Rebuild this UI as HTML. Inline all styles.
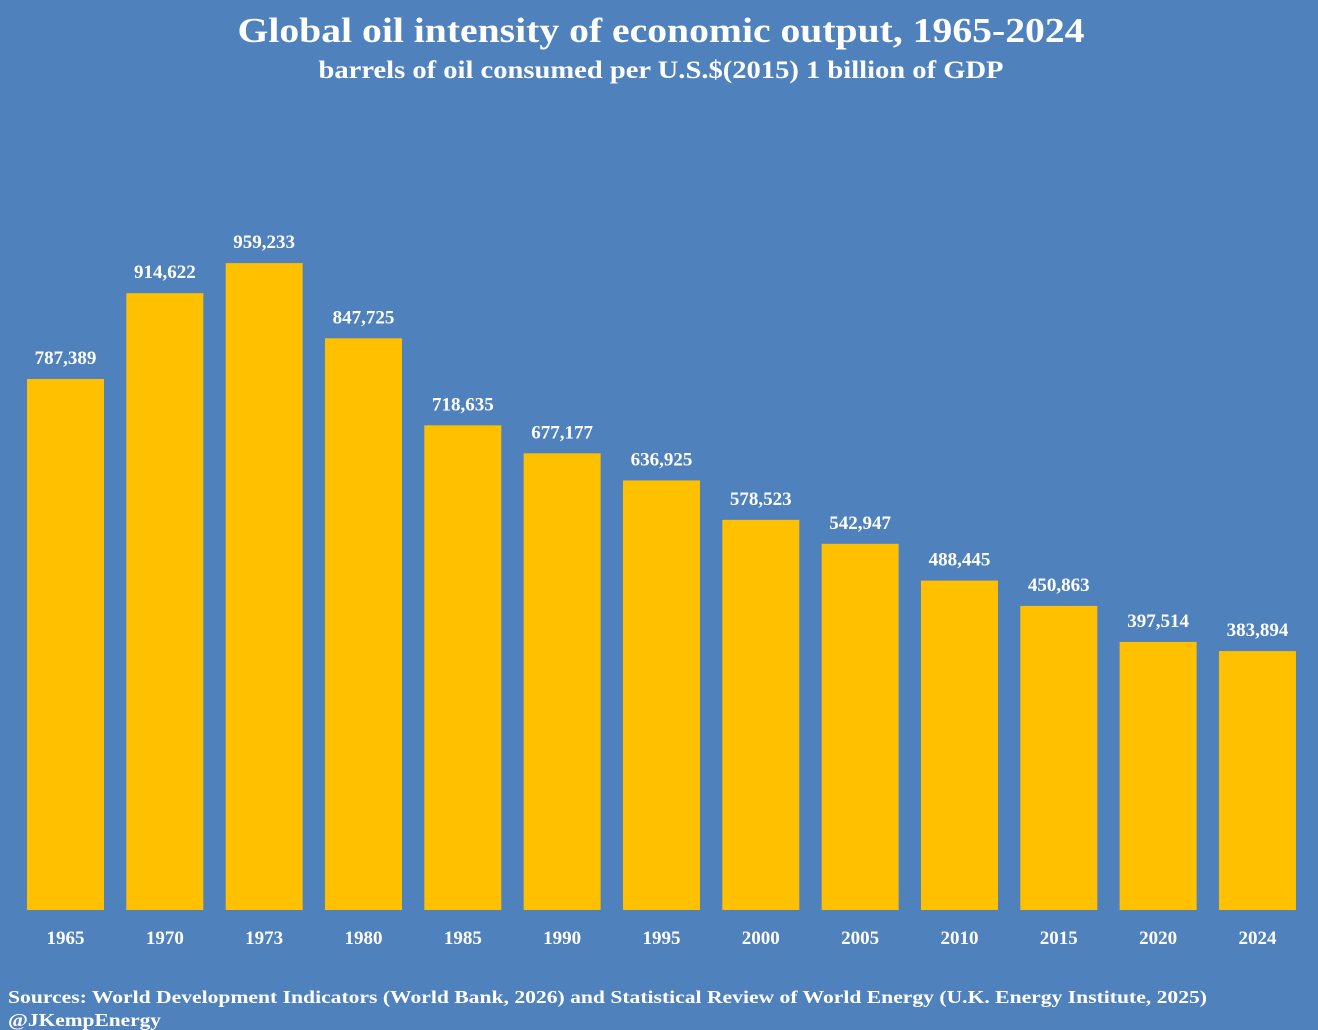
<!DOCTYPE html>
<html><head><meta charset="utf-8"><style>
html,body{margin:0;padding:0;background:#4f81bd;}
svg{display:block;font-family:"Liberation Serif",serif;font-weight:bold;}
</style></head><body>
<svg width="1318" height="1030" viewBox="0 0 1318 1030">
<rect width="1318" height="1030" fill="#4f81bd"/>
<text x="661" y="42" text-anchor="middle" font-size="35" fill="#fff" textLength="847" lengthAdjust="spacingAndGlyphs">Global oil intensity of economic output, 1965-2024</text>
<text x="661" y="78" text-anchor="middle" font-size="25" fill="#fff" textLength="685" lengthAdjust="spacingAndGlyphs">barrels of oil consumed per U.S.$(2015) 1 billion of GDP</text>
<g id="bars"></g>
<text x="8" y="1003" font-size="18" fill="#fff" textLength="1199" lengthAdjust="spacingAndGlyphs">Sources: World Development Indicators (World Bank, 2026) and Statistical Review of World Energy (U.K. Energy Institute, 2025)</text>
<text x="8" y="1026" font-size="18" fill="#fff" textLength="153" lengthAdjust="spacingAndGlyphs">@JKempEnergy</text>
</svg>
<script>
const categories=["1965","1970","1973","1980","1985","1990","1995","2000","2005","2010","2015","2020","2024"];
const values=[787389,914622,959233,847725,718635,677177,636925,578523,542947,488445,450863,397514,383894];
const valueLabels=["787,389","914,622","959,233","847,725","718,635","677,177","636,925","578,523","542,947","488,445","450,863","397,514","383,894"];
const NS="http://www.w3.org/2000/svg";
const baseY=910, scale=0.0006744, x0=27, step=99.33, bw=77;
function yScale(v){return baseY-v*scale;}
function xScale(i){return x0+i*step;}
const g=document.getElementById('bars');
categories.forEach((c,i)=>{
  const x=xScale(i), y=yScale(values[i]);
  const r=document.createElementNS(NS,'rect');
  r.setAttribute('x',x);r.setAttribute('y',y);r.setAttribute('width',bw);r.setAttribute('height',baseY-y);r.setAttribute('fill','#ffc000');
  
  
  g.appendChild(r);
  const t=document.createElementNS(NS,'text');
  t.setAttribute('x',x+bw/2);t.setAttribute('y',y-15);t.setAttribute('text-anchor','middle');t.setAttribute('font-size','19');t.setAttribute('fill','#fff');
  t.textContent=valueLabels[i];
  
  
  g.appendChild(t);
  const l=document.createElementNS(NS,'text');
  l.setAttribute('x',x+bw/2);l.setAttribute('y',944);l.setAttribute('text-anchor','middle');l.setAttribute('font-size','19');l.setAttribute('fill','#fff');
  l.textContent=c;
  
  
  g.appendChild(l);
});
</script>
</body></html>
